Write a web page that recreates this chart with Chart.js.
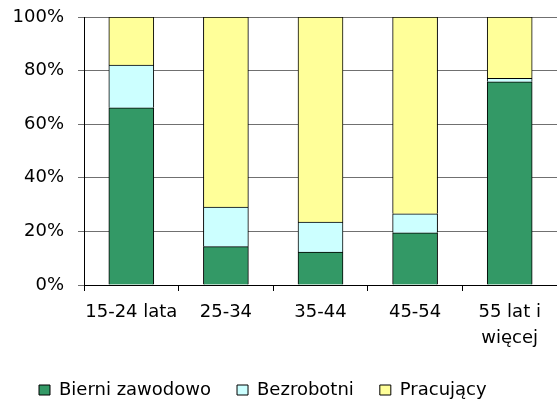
<!DOCTYPE html>
<html>
<head>
<meta charset="utf-8">
<script src="https://cdn.jsdelivr.net/npm/chart.js@4"></script>
<style>
  html, body { margin: 0; padding: 0; background: #ffffff; }
  #wrap { width: 557px; height: 400px; }
</style>
</head>
<body>
<div id="wrap"><canvas id="c" width="557" height="400"></canvas></div>
<script>
const categories = ['15-24 lata', '25-34', '35-44', '45-54', ['55 lat i', 'więcej']];
const seriesNames = ['Bierni zawodowo', 'Bezrobotni', 'Pracujący'];
const bierni = [66.1, 14.3, 12.3, 19.5, 75.8];
const bezrobotni = [16.0, 14.8, 11.2, 7.1, 1.3];
const pracujacy = [17.9, 70.9, 76.5, 73.4, 22.9];
const yTicks = [0, 20, 40, 60, 80, 100];

const FONT = 'DejaVu Sans';

new Chart(document.getElementById('c'), {
  type: 'bar',
  data: {
    labels: categories,
    datasets: [
      { label: seriesNames[0], data: bierni, backgroundColor: '#339966', borderColor: '#000000', borderWidth: 1 },
      { label: seriesNames[1], data: bezrobotni, backgroundColor: '#CCFFFF', borderColor: '#000000', borderWidth: 1 },
      { label: seriesNames[2], data: pracujacy, backgroundColor: '#FFFF99', borderColor: '#000000', borderWidth: 1 }
    ]
  },
  options: {
    responsive: false,
    animation: false,
    devicePixelRatio: 1,
    datasets: { bar: { barThickness: 45, categoryPercentage: 1.0 } },
    layout: { padding: { top: 0, left: 13, right: -2, bottom: 0 } },
    plugins: {
      tooltip: { enabled: false },
      legend: {
        position: 'bottom',
        align: 'start',
        maxHeight: 45,
        labels: {
          boxWidth: 11,
          boxHeight: 10,
          padding: 26,
          color: '#000000',
          font: { family: FONT, size: 18 }
        }
      }
    },
    scales: {
      x: {
        stacked: true,
        afterFit: (scale) => { scale.height = 70; },
        grid: { display: true, drawOnChartArea: false, drawTicks: true, tickLength: 6, color: '#000000', offset: true },
        border: { display: true, color: '#000000', width: 1 },
        ticks: { color: '#000000', padding: 8, maxRotation: 0, autoSkip: false, font: { family: FONT, size: 18, lineHeight: 1.45 } }
      },
      y: {
        stacked: true,
        min: 0,
        max: 100,
        afterFit: (scale) => { scale.width = 71; scale.paddingTop = 17; scale.paddingBottom = 0; },
        afterBuildTicks: (axis) => { axis.ticks = yTicks.map(v => ({ value: v })); },
        grid: { display: true, drawOnChartArea: true, drawTicks: true, tickLength: 6, color: '#707070' },
        border: { display: true, color: '#000000', width: 1 },
        ticks: { color: '#000000', padding: 14, font: { family: FONT, size: 18 }, callback: (v) => v + '%' }
      }
    }
  }
});
</script>
</body>
</html>
